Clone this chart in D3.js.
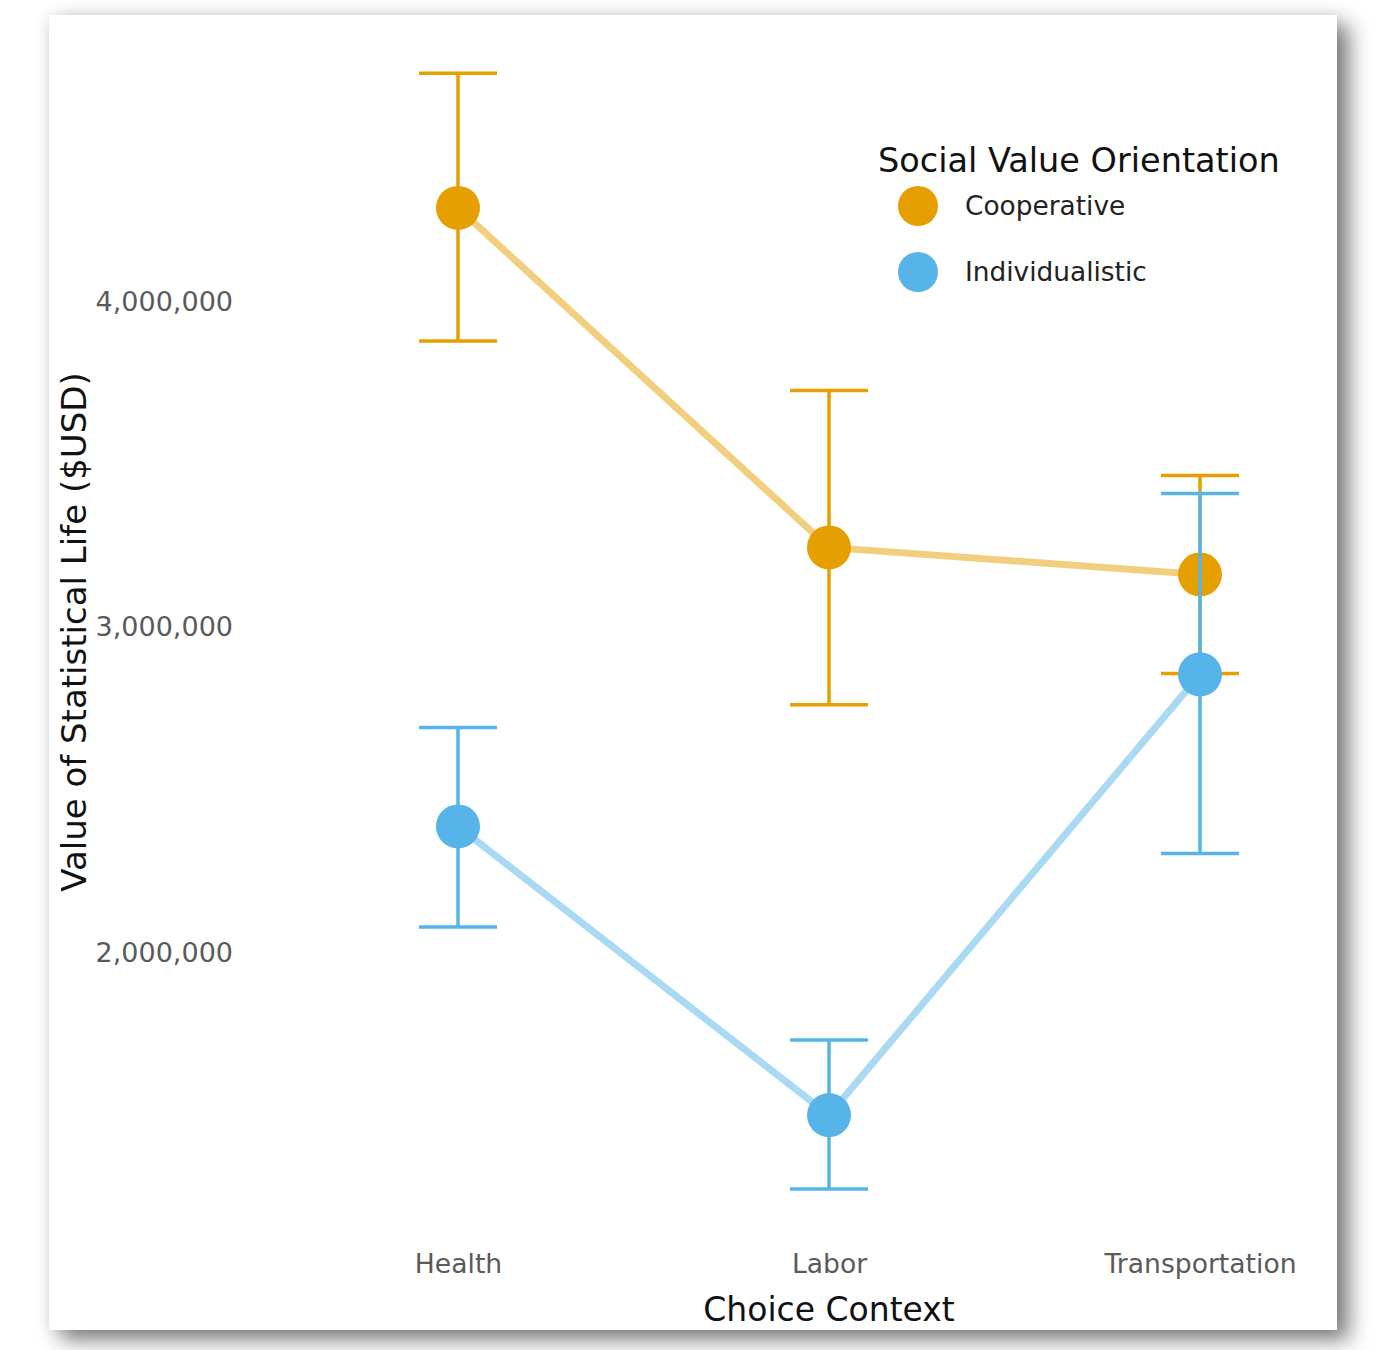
<!DOCTYPE html>
<html>
<head>
<meta charset="utf-8">
<script src="https://cdn.jsdelivr.net/npm/d3@7"></script>
<style>
  html, body { margin: 0; padding: 0; background: #ffffff; }
  body { width: 1384px; height: 1350px; position: relative; overflow: hidden; }
  #card {
    position: absolute; left: 49px; top: 15px; width: 1288px; height: 1315px;
    background: #ffffff;
    box-shadow: 12px 10px 20px rgba(0,0,0,0.5), 0 0 14px rgba(0,0,0,0.10);
  }
  svg { position: absolute; left: 0; top: 0; }
  text { font-family: "DejaVu Sans", Verdana, sans-serif; }
</style>
</head>
<body>
<div id="card"></div>
<svg id="chart" width="1384" height="1350"></svg>
<script>
// Choice contexts along the x axis
const categories = ["Health", "Labor", "Transportation"];

// Social value orientation groups
const seriesNames = ["Cooperative", "Individualistic"];

// Mean value of statistical life per context
const cooperativeMean = [4289000, 3246000, 3163000];
const individualisticMean = [2389000, 1502000, 2856000];

// Confidence interval bounds
const cooperativeLow = [3880000, 2763000, 2859000];
const cooperativeHigh = [4703000, 3728000, 3467000];
const individualisticLow = [2080000, 1275000, 2306000];
const individualisticHigh = [2693000, 1733000, 3412000];

// Y axis tick values
const yTicks = [2000000, 3000000, 4000000];

const colors = { Cooperative: "#E69F00", Individualistic: "#56B4E9" };

const series = [
  { name: "Cooperative", mean: cooperativeMean, low: cooperativeLow, high: cooperativeHigh },
  { name: "Individualistic", mean: individualisticMean, low: individualisticLow, high: individualisticHigh }
].map(s => ({
  name: s.name,
  points: categories.map((c, i) => ({ cat: c, mean: s.mean[i], low: s.low[i], high: s.high[i] }))
}));

const svg = d3.select("#chart");

const x = d3.scalePoint().domain(categories).range([458, 1200]);
const y = d3.scaleLinear().domain([2000000, 4000000]).range([953, 302]);

// Y axis labels (no axis line)
const yAxis = d3.axisLeft(y).tickValues(yTicks).tickFormat(d3.format(",")).tickSize(0).tickPadding(0);
const gy = svg.append("g").attr("transform", "translate(233,0)").call(yAxis);
gy.select(".domain").remove();
gy.selectAll("text")
  .attr("fill", "#5a5a5a")
  .attr("dy", "0.3em")
  .style("font-size", "27px")
  .style("font-family", "'DejaVu Sans', Verdana, sans-serif");

// X axis labels
const xAxis = d3.axisBottom(x).tickSize(0).tickPadding(0);
const gx = svg.append("g").attr("transform", "translate(0,1253)").call(xAxis);
gx.select(".domain").remove();
gx.selectAll("text")
  .attr("fill", "#5a5a5a")
  .attr("dy", "0.75em")
  .style("font-size", "26.6px")
  .style("font-family", "'DejaVu Sans', Verdana, sans-serif");

// Axis titles
svg.append("text")
  .attr("x", 829).attr("y", 1321)
  .attr("text-anchor", "middle")
  .attr("fill", "#111")
  .style("font-size", "33px")
  .text("Choice Context");

svg.append("text")
  .attr("transform", "translate(86,632) rotate(-90)")
  .attr("text-anchor", "middle")
  .attr("fill", "#111")
  .style("font-size", "34px")
  .text("Value of Statistical Life ($USD)");

const line = d3.line().x(d => x(d.cat)).y(d => y(d.mean));
const capHalf = 39;

series.forEach(s => {
  const g = svg.append("g");
  const col = colors[s.name];

  // connecting line
  g.append("path")
    .datum(s.points)
    .attr("d", line)
    .attr("fill", "none")
    .attr("stroke", col)
    .attr("stroke-opacity", 0.5)
    .attr("stroke-width", 7);

  // error bars
  const eb = g.selectAll(".eb").data(s.points).enter().append("g");
  eb.append("line")
    .attr("x1", d => x(d.cat)).attr("x2", d => x(d.cat))
    .attr("y1", d => y(d.high)).attr("y2", d => y(d.low))
    .attr("stroke", col).attr("stroke-width", 3.5);
  eb.append("line")
    .attr("x1", d => x(d.cat) - capHalf).attr("x2", d => x(d.cat) + capHalf)
    .attr("y1", d => y(d.high)).attr("y2", d => y(d.high))
    .attr("stroke", col).attr("stroke-width", 3.5);
  eb.append("line")
    .attr("x1", d => x(d.cat) - capHalf).attr("x2", d => x(d.cat) + capHalf)
    .attr("y1", d => y(d.low)).attr("y2", d => y(d.low))
    .attr("stroke", col).attr("stroke-width", 3.5);

  // points
  g.selectAll("circle").data(s.points).enter().append("circle")
    .attr("cx", d => x(d.cat)).attr("cy", d => y(d.mean))
    .attr("r", 22)
    .attr("fill", col);
});

// Legend
const legend = svg.append("g").attr("transform", "translate(878,0)");
legend.append("text")
  .attr("x", 0).attr("y", 172)
  .attr("fill", "#111")
  .style("font-size", "33.5px")
  .text("Social Value Orientation");
seriesNames.forEach((name, i) => {
  const cy = 206 + i * 66;
  legend.append("circle")
    .attr("cx", 40).attr("cy", cy).attr("r", 20)
    .attr("fill", colors[name]);
  legend.append("text")
    .attr("x", 87).attr("y", cy + 9)
    .attr("fill", "#222")
    .style("font-size", "26.4px")
    .text(name);
});
</script>
</body>
</html>
